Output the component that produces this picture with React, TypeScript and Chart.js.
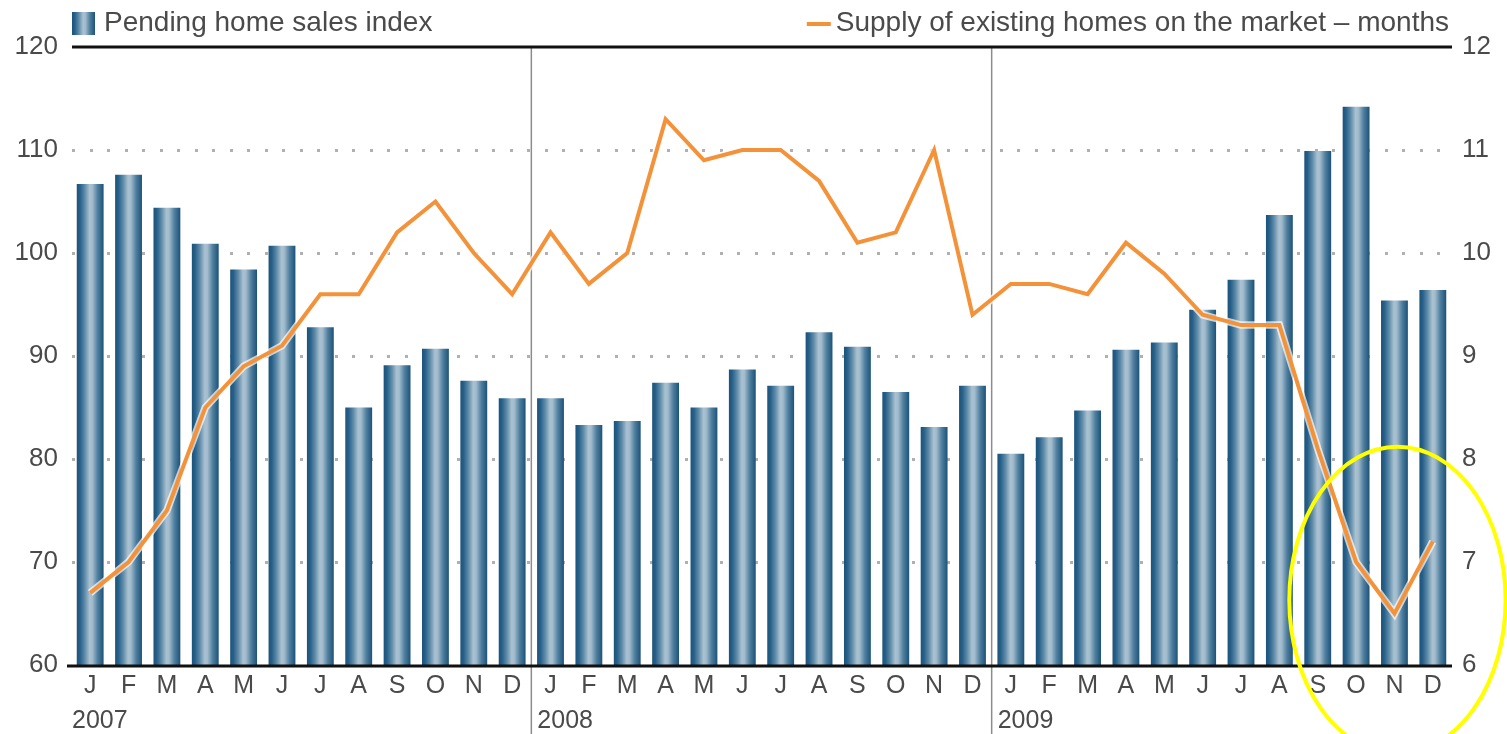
import React, { useEffect, useRef } from "react";
import { Chart, registerables } from "chart.js";

Chart.register(...registerables);

const monthLetters = ["J", "F", "M", "A", "M", "J", "J", "A", "S", "O", "N", "D"];
const years = ["2007", "2008", "2009"];
const categories: string[] = years.flatMap(() => monthLetters);

const pendingIndex = [
  106.7, 107.6, 104.4, 100.9, 98.4, 100.7, 92.8, 85.0, 89.1, 90.7, 87.6, 85.9,
  85.9, 83.3, 83.7, 87.4, 85.0, 88.7, 87.1, 92.3, 90.9, 86.5, 83.1, 87.1,
  80.5, 82.1, 84.7, 90.6, 91.3, 94.5, 97.4, 103.7, 109.9, 114.2, 95.4, 96.4,
];

const supplyMonths = [
  6.7, 7.0, 7.5, 8.5, 8.9, 9.1, 9.6, 9.6, 10.2, 10.5, 10.0, 9.6,
  10.2, 9.7, 10.0, 11.3, 10.9, 11.0, 11.0, 10.7, 10.1, 10.2, 11.0, 9.4,
  9.7, 9.7, 9.6, 10.1, 9.8, 9.4, 9.3, 9.3, 8.1, 7.0, 6.5, 7.2,
];

const leftTicks = [60, 70, 80, 90, 100, 110, 120];
const rightTicks = [6, 7, 8, 9, 10, 11, 12];

const legendBars = "Pending home sales index";
const legendLine = "Supply of existing homes on the market \u2013 months";

const FONT = "'Liberation Sans', Arial, Helvetica, sans-serif";
const TEXT = "#4a4a4a";
const ORANGE = "#f4923a";
const BAR_PCT = 0.7;

function barGradient(ctx: CanvasRenderingContext2D, x0: number, x1: number) {
  const g = ctx.createLinearGradient(x0, 0, x1, 0);
  g.addColorStop(0, "#1c5278");
  g.addColorStop(0.12, "#26608a");
  g.addColorStop(0.3, "#5f8ba8");
  g.addColorStop(0.48, "#a9c1d1");
  g.addColorStop(0.58, "#a3bccd");
  g.addColorStop(0.78, "#4f7f9f");
  g.addColorStop(1, "#1c5278");
  return g;
}

const decorPlugin = {
  id: "decor",
  beforeDatasetsDraw(chart: any) {
    const { ctx, chartArea, scales } = chart;
    const y = scales.y;
    const x = scales.x;
    ctx.save();
    // dotted grid
    ctx.fillStyle = "#b0b0b0";
    leftTicks.slice(1, -1).forEach((v) => {
      const py = Math.round(y.getPixelForValue(v));
      for (let px = chartArea.left + 1; px < chartArea.right; px += 17.5) {
        ctx.fillRect(Math.round(px), py - 1, 3, 3);
      }
    });
    // year separators
    ctx.strokeStyle = "#8c8c8c";
    ctx.lineWidth = 1.5;
    for (let k = 1; k < years.length; k++) {
      const i = k * 12;
      const sx = (x.getPixelForValue(i - 1) + x.getPixelForValue(i)) / 2;
      ctx.beginPath();
      ctx.moveTo(sx, chartArea.top);
      ctx.lineTo(sx, chart.height);
      ctx.stroke();
    }
    ctx.restore();
  },
  afterDatasetsDraw(chart: any) {
    const { ctx, chartArea, scales } = chart;
    const x = scales.x;
    const y1 = scales.y1;
    ctx.save();
    // top & bottom rules
    ctx.strokeStyle = "#111";
    ctx.lineWidth = 3;
    ctx.beginPath();
    ctx.moveTo(chartArea.left + 1, chartArea.top);
    ctx.lineTo(chartArea.right, chartArea.top);
    ctx.stroke();
    ctx.beginPath();
    ctx.moveTo(chartArea.left - 4, chartArea.bottom + 1);
    ctx.lineTo(chartArea.right, chartArea.bottom + 1);
    ctx.stroke();

    // year labels
    ctx.fillStyle = TEXT;
    ctx.font = `25px ${FONT}`;
    ctx.textAlign = "left";
    ctx.textBaseline = "middle";
    years.forEach((yr, k) => {
      const i = k * 12;
      const sx =
        k === 0
          ? chartArea.left + 1
          : (x.getPixelForValue(i - 1) + x.getPixelForValue(i)) / 2 + 6;
      ctx.fillText(yr, sx, chartArea.bottom + 56);
    });

    // legend
    ctx.font = `28px ${FONT}`;
    const ly = chartArea.top - 24;
    ctx.fillStyle = barGradient(ctx, chartArea.left + 1, chartArea.left + 24);
    ctx.fillRect(chartArea.left + 1, ly - 11, 23, 23);
    ctx.fillStyle = TEXT;
    ctx.textAlign = "left";
    ctx.fillText(legendBars, chartArea.left + 33, ly);
    ctx.textAlign = "right";
    const rx = chartArea.right - 3;
    ctx.fillText(legendLine, rx, ly);
    const w = ctx.measureText(legendLine).width;
    ctx.strokeStyle = ORANGE;
    ctx.lineWidth = 4;
    ctx.beginPath();
    ctx.moveTo(rx - w - 29, ly + 1);
    ctx.lineTo(rx - w - 5, ly + 1);
    ctx.stroke();

    // yellow highlight ellipse around the last months
    const cx = x.getPixelForValue(34) + 3;
    const cy = y1.getPixelForValue(6.63);
    const step = x.getPixelForValue(1) - x.getPixelForValue(0);
    const ry = y1.getPixelForValue(6) - y1.getPixelForValue(7.49);
    ctx.strokeStyle = "#ffff00";
    ctx.lineWidth = 4;
    ctx.beginPath();
    ctx.ellipse(cx, cy, step * 2.82, ry, 0, 0, Math.PI * 2);
    ctx.stroke();
    ctx.restore();
  },
};

export default function App() {
  const canvasRef = useRef<HTMLCanvasElement | null>(null);

  useEffect(() => {
    document.body.style.margin = "0";
    const canvas = canvasRef.current;
    if (!canvas) return;
    const chart = new Chart(canvas, {
      type: "bar",
      data: {
        labels: categories,
        datasets: [
          {
            type: "line",
            label: legendLine,
            data: supplyMonths,
            yAxisID: "y1",
            borderColor: ORANGE,
            borderWidth: 4,
            pointRadius: 0,
            tension: 0,
            order: 0,
          },
          {
            type: "line",
            label: "halo",
            data: supplyMonths,
            yAxisID: "y1",
            borderColor: "rgba(255,255,255,0.7)",
            borderWidth: 7.5,
            pointRadius: 0,
            tension: 0,
            order: 1,
          },
          {
            type: "bar",
            label: legendBars,
            data: pendingIndex,
            yAxisID: "y",
            barPercentage: BAR_PCT,
            categoryPercentage: 1,
            backgroundColor: (c: any) => {
              const ch = c.chart;
              const xs = ch.scales && ch.scales.x;
              if (!xs || c.type !== "data" || !ch.chartArea) return "#2a6288";
              const cx = xs.getPixelForValue(c.dataIndex);
              const w = (xs.width / categories.length) * BAR_PCT;
              return barGradient(ch.ctx, cx - w / 2, cx + w / 2);
            },
            borderWidth: 0,
            order: 2,
          },
        ],
      },
      options: {
        animation: false,
        responsive: true,
        maintainAspectRatio: false,
        layout: { padding: { top: 47, left: 0, right: 0, bottom: 0 } },
        plugins: {
          legend: { display: false },
          tooltip: { enabled: false },
        },
        scales: {
          x: {
            grid: { display: false, drawTicks: false },
            border: { display: false },
            ticks: {
              color: TEXT,
              font: { family: FONT, size: 25 },
              padding: 6,
              maxRotation: 0,
              autoSkip: false,
            },
            afterFit: (s: any) => {
              s.height = 69;
            },
          },
          y: {
            position: "left",
            min: 60,
            max: 120,
            afterBuildTicks: (s: any) => {
              s.ticks = leftTicks.map((v) => ({ value: v }));
            },
            grid: { display: false, drawTicks: false },
            border: { display: false },
            ticks: {
              color: TEXT,
              font: { family: FONT, size: 26 },
              padding: 13,
            },
            afterFit: (s: any) => {
              s.width = 71;
            },
          },
          y1: {
            position: "right",
            min: 6,
            max: 12,
            afterBuildTicks: (s: any) => {
              s.ticks = rightTicks.map((v) => ({ value: v }));
            },
            grid: { display: false, drawTicks: false },
            border: { display: false },
            ticks: {
              color: TEXT,
              font: { family: FONT, size: 26 },
              padding: 10,
            },
            afterFit: (s: any) => {
              s.width = 55;
            },
          },
        },
      },
      plugins: [decorPlugin],
    });
    return () => chart.destroy();
  }, []);

  return (
    <div style={{ position: "absolute", left: 0, top: 0, width: 1507, height: 734 }}>
      <canvas ref={canvasRef} />
    </div>
  );
}
